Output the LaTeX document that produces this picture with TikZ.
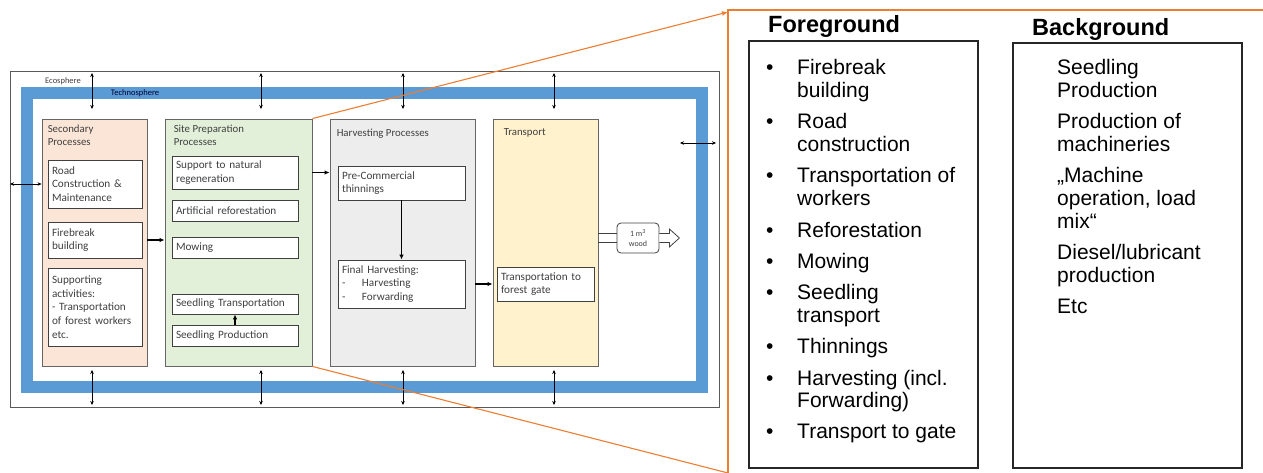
\documentclass[tikz,border=0pt]{standalone}
\usepackage{fontspec}
\usetikzlibrary{arrows.meta}
\newfontfamily\calfont{Carlito}
\newfontfamily\arialfont{Liberation Sans}
\definecolor{techblue}{HTML}{5B9BD5}
\definecolor{callout}{HTML}{ED7D31}
\definecolor{peach}{HTML}{FBE5D6}
\definecolor{mint}{HTML}{E2F0D9}
\definecolor{lgray}{HTML}{EDEDED}
\definecolor{cream}{HTML}{FFF2CC}
\definecolor{ink}{HTML}{404040}
\tikzset{
  cont/.style={draw=black!60, line width=0.9pt, inner sep=0pt},
  ibox/.style={draw=black!75, fill=white, line width=0.8pt, inner sep=4pt,
    align=left, text=ink, font=\calfont\fontsize{11.2}{13.6}\selectfont},
  ptitle/.style={anchor=north west, inner sep=0pt, align=left, text=ink,
    font=\calfont\fontsize{10.8}{13}\selectfont},
  flow/.style={line width=1.4pt, -{Latex[length=5pt,width=4.5pt]}},
  exch/.style={line width=0.5pt, {Stealth[length=4pt,width=3.5pt]}-{Stealth[length=4pt,width=3.5pt]}},
  orangeline/.style={draw=callout, line width=1.1pt},
  listbox/.style={draw=black!85, line width=1.1pt},
  big/.style={anchor=base west, inner sep=0pt, font=\arialfont\fontsize{21}{23}\selectfont},
  head/.style={anchor=base west, inner sep=0pt, font=\arialfont\bfseries\fontsize{23.5}{26}\selectfont},
}
\begin{document}
\begin{tikzpicture}[x=1pt,y=-1pt]
\useasboundingbox (0,0) rectangle (1263,473);

% Ecosphere and technosphere frames
\draw[draw=black!65, line width=0.9pt] (10,71) rectangle (719,407);
\draw[techblue, line width=12pt] (26.5,93) rectangle (702,386.5);
\node[inner sep=0pt, text=ink, font=\calfont\fontsize{8.5}{10}\selectfont] (eco) at (63,81) {Ecosphere};
\node[inner sep=0pt, text=black!80!blue, font=\calfont\fontsize{8.5}{10}\selectfont] (techno) at (135,93) {Technosphere};

% Process groups
\node[cont, fill=peach, minimum width=105, minimum height=247] (sec) at (94.5,242.5) {};
\node[cont, fill=mint, minimum width=147, minimum height=247] (site) at (238.5,242.5) {};
\node[cont, fill=lgray, minimum width=145, minimum height=247] (harv) at (402.5,242.5) {};
\node[cont, fill=cream, minimum width=105, minimum height=247] (trans) at (545.5,242.5) {};

\node[ptitle] at ([xshift=6pt,yshift=-6pt]sec.north west) {Secondary\\Processes};
\node[ptitle] at ([xshift=9pt,yshift=-6pt]site.north west) {Site Preparation\\Processes};
\node[ptitle] at ([xshift=7pt,yshift=-10pt]harv.north west) {Harvesting Processes};
\node[ptitle] at ([xshift=11pt,yshift=-10pt]trans.north west) {Transport};

% Secondary processes
\node[ibox, minimum width=94, minimum height=48, text width=86] (road) at (95,184) {Road\\Construction \&\\Maintenance};
\node[ibox, minimum width=94, minimum height=36, text width=86] (fire) at (95,240) {Firebreak\\building};
\node[ibox, minimum width=94, minimum height=78, text width=86] (supp) at (95,307) {Supporting\\activities:\\- Transportation\\of forest workers\\etc.};

% Site preparation
\node[ibox, minimum width=126, minimum height=33, text width=118] (nat) at (235,172.5) {Support to natural\\regeneration};
\node[ibox, minimum width=126, minimum height=21, text width=118] (art) at (235,210.5) {Artificial reforestation};
\node[ibox, minimum width=126, minimum height=21, text width=118] (mow) at (235,247.5) {Mowing};
\node[ibox, minimum width=126, minimum height=20, text width=118] (strans) at (235,304) {Seedling Transportation};
\node[ibox, minimum width=126, minimum height=21, text width=118] (sprod) at (235,335.5) {Seedling Production};

% Harvesting
\node[ibox, minimum width=127, minimum height=34, text width=119] (pre) at (401.5,183) {Pre-Commercial\\thinnings};
\node[ibox, minimum width=127, minimum height=48, text width=119] (final) at (401.5,284) {Final Harvesting:\\\makebox[20pt][l]{-}Harvesting\\\makebox[20pt][l]{-}Forwarding};

% Transport
\node[ibox, minimum width=97, minimum height=34, text width=89] (gate) at (545.5,284) {Transportation to\\forest gate};

% Product output
\node[draw=black!75, fill=white, line width=0.8pt, rounded corners=4pt, minimum width=42, minimum height=30,
  inner sep=1pt, align=center, text=ink, font=\calfont\fontsize{8}{10}\selectfont] (wood) at (638,238) {1 m\textsuperscript{3}\\wood};
\draw[line width=0.8pt, black!75] ([yshift=4.5pt]wood.west -| trans.east) -- ([yshift=4.5pt]wood.west);
\draw[line width=0.8pt, black!75] ([yshift=-4.5pt]wood.west -| trans.east) -- ([yshift=-4.5pt]wood.west);
\draw[line width=0.8pt, black!75, fill=white, line join=miter]
  ([yshift=4.5pt]wood.east) -- ++(10,0) -- ++(0,-4.5) -- ++(10,9) -- ++(-10,9) -- ++(0,-4.5) -- ([yshift=-4.5pt]wood.east);

% Process flow
\draw[flow] (fire.east -| sec.east) -- (fire.east -| site.west);
\draw[flow] (nat.east -| site.east) -- (nat.east -| harv.west);
\draw[flow] (pre.south) -- (final.north);
\draw[flow] (final.east -| harv.east) -- (final.east -| trans.west);
\draw[flow] (sprod.north) -- (strans.south);

% Exchanges across the system boundary
\foreach \x/\n in {92/a,261/b,403/c,554/d}{
  \coordinate (top\n1) at (\x,73);
  \coordinate (top\n2) at (\x,109);
  \coordinate (bot\n1) at (\x,370);
  \coordinate (bot\n2) at (\x,405);
  \draw[exch] (top\n1) -- (top\n2);
  \draw[exch] (bot\n1) -- (bot\n2);
}
\coordinate (leftend) at (10,184);
\draw[exch] (leftend) -- (road.west -| sec.west);
\coordinate (right1) at (680,143);
\coordinate (right2) at (716,143);
\draw[exch] (right1) -- (right2);

% Callout panel
\coordinate (pnw) at (728,10);
\coordinate (pne) at (1263,10);
\coordinate (psw) at (728,473);
\draw[orangeline] (pne) -- (pnw) -- (psw);
\draw[orangeline, -{Latex[length=6pt,width=5pt]}] (site.north east) -- ([yshift=-2pt]pnw);
\draw[orangeline] (site.south east) -- (psw);

\node[listbox, minimum width=229, minimum height=427] (fg) at (863.5,254.5) {};
\node[listbox, minimum width=229, minimum height=425] (bg) at (1127.5,255.5) {};
\node[head] (fghead) at (768,33) {Foreground};
\node[head] (bghead) at (1032,36) {Background};

% Foreground items
\foreach \y/\t/\b in {75/Firebreak/1, 98/building/0, 129/Road/1, 152/construction/0,
  183/Transportation of/1, 206/workers/0, 237/Reforestation/1, 268/Mowing/1,
  299/Seedling/1, 322/transport/0, 353/Thinnings/1, 385/Harvesting (incl./1,
  407/Forwarding)/0, 438/Transport to gate/1}{
  \node[big] at (797,\y) {\t};
  \ifnum\b=1 \node[big] at (766,\y) {•}; \fi
}

% Background items
\foreach \y/\t in {75/Seedling, 98/Production, 129/Production of, 152/machineries,
  183/„Machine, 206/{operation, load}, 229/mix“, 259/{Diesel/lubricant}, 282/production, 313/Etc}{
  \node[big] at (1057,\y) {\t};
}
\end{tikzpicture}
\end{document}
